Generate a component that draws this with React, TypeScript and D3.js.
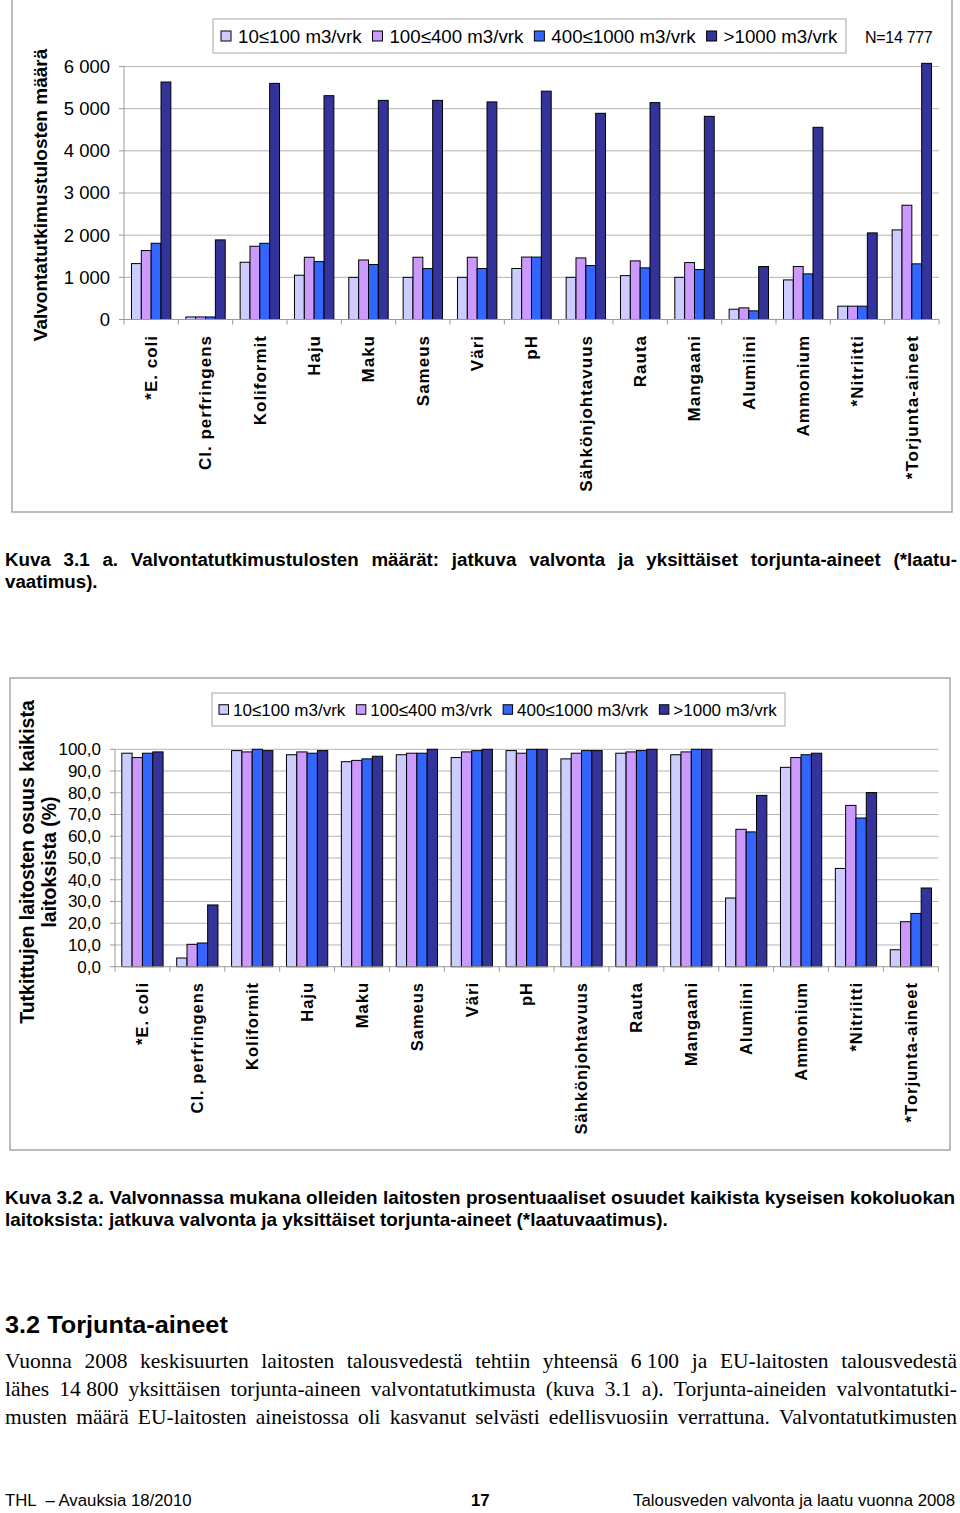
import React from 'react';
import * as d3 from 'd3';

// ---------- DATA ----------
const categories = [
  '*E. coli', 'Cl. perfringens', 'Koliformit', 'Haju', 'Maku', 'Sameus', 'Väri', 'pH',
  'Sähkönjohtavuus', 'Rauta', 'Mangaani', 'Alumiini', 'Ammonium', '*Nitriitti', '*Torjunta-aineet',
];
const seriesNames = ['10≤100 m3/vrk', '100≤400 m3/vrk', '400≤1000 m3/vrk', '>1000 m3/vrk'];
const seriesColors = ['#CCCCFF', '#CC99FF', '#3366FF', '#333399'];

// Kuva 3.1 a: number of results
const count10to100 = [1326, 60, 1358, 1050, 1000, 1000, 1000, 1210, 1000, 1040, 1000, 244, 939, 316, 2125];
const count100to400 = [1635, 60, 1737, 1476, 1412, 1476, 1476, 1480, 1460, 1390, 1350, 276, 1256, 316, 2710];
const count400to1000 = [1808, 60, 1808, 1374, 1303, 1208, 1208, 1480, 1280, 1225, 1185, 205, 1082, 316, 1320];
const countOver1000 = [5632, 1888, 5600, 5308, 5197, 5197, 5160, 5415, 4890, 5143, 4818, 1256, 4558, 2054, 6075];
const countTicks = [0, 1000, 2000, 3000, 4000, 5000, 6000];

// Kuva 3.2 a: share of plants (%)
const pct10to100 = [98.2, 4.0, 99.4, 97.5, 94.3, 97.5, 96.2, 99.4, 95.6, 98.2, 97.5, 31.6, 91.7, 45.2, 7.8];
const pct100to400 = [96.2, 10.3, 98.8, 98.8, 94.9, 98.2, 98.8, 98.2, 98.2, 98.8, 98.8, 63.2, 96.2, 74.2, 20.7];
const pct400to1000 = [98.2, 10.9, 100.0, 98.2, 95.6, 98.2, 99.4, 100.0, 99.4, 99.4, 100.0, 62.0, 97.5, 68.4, 24.5];
const pctOver1000 = [98.8, 28.4, 99.4, 99.4, 96.8, 100.0, 100.0, 100.0, 99.4, 100.0, 100.0, 78.8, 98.2, 80.1, 36.2];
const pctTicks = [0, 10, 20, 30, 40, 50, 60, 70, 80, 90, 100];

// ---------- TEXT MEASURE ----------
const SANS = "'Liberation Sans', Arial, sans-serif";
const SERIF = "'Liberation Serif', 'Times New Roman', serif";
let ctx: CanvasRenderingContext2D | null = null;
function measure(text: string, font: string): number {
  if (!ctx) {
    const c = document.createElement('canvas');
    ctx = c.getContext('2d');
  }
  if (!ctx) return text.length * 8;
  ctx.font = font;
  return ctx.measureText(text).width;
}

function JustLine(props: {
  text: string; x0: number; x1: number; y: number; size: number; bold?: boolean; serif?: boolean; justify?: boolean; sx?: number;
}) {
  const { text, x0, x1, y, size, bold, serif, justify } = props;
  const sx = props.sx ?? 1;
  const fam = serif ? "'Liberation Serif'" : "'Liberation Sans'";
  const font = `${bold ? 'bold ' : ''}${size}px ${fam}`;
  const words = text.split(' ');
  const widths = words.map((w) => measure(w, font) * sx);
  const total = d3.sum(widths);
  const spaceW = measure(' ', font) * sx;
  const gap = justify && words.length > 1 ? (x1 - x0 - total) / (words.length - 1) : spaceW;
  let cx = x0;
  const xs = widths.map((w) => {
    const p = cx;
    cx += w + gap;
    return p;
  });
  return (
    <g transform={`scale(${sx},1)`}>
      <text y={y} fontSize={size} fontWeight={bold ? 'bold' : 'normal'} fontFamily={serif ? SERIF : SANS} fill="#000">
        {words.map((w, i) => (
          <tspan key={i} x={xs[i] / sx}>{w}</tspan>
        ))}
      </text>
    </g>
  );
}

// ---------- CHART ----------
type ChartProps = {
  box: [number, number, number, number];
  left: number; right: number; top: number; bottom: number;
  max: number;
  ticks: number[];
  fmt: (v: number) => string;
  series: number[][];
  padding: number;
  tickSize: number; tickLabelX: number;
  legend: { x0: number; y0: number; x1: number; y1: number; size: number; sq: number; first: number; textGap: number; itemGap: number };
  labelSize: number; labelY: number;
  yTitle: { lines: string[]; xs: number[]; cy: number; size: number };
};

function BarChart(p: ChartProps) {
  const x = d3.scaleBand<string>().domain(categories).range([p.left, p.right]).paddingInner(p.padding).paddingOuter(p.padding / 2);
  const sub = d3.scaleBand<number>().domain(d3.range(p.series.length)).range([0, x.bandwidth()]).padding(0);
  const y = d3.scaleLinear().domain([0, p.max]).range([p.bottom, p.top]);
  const step = x.step();
  const [bx0, by0, bx1, by1] = p.box;
  const lg = p.legend;
  const legendFont = `${lg.size}px 'Liberation Sans'`;
  let lx = lg.first;
  const legendItems = seriesNames.map((name, i) => {
    const item = { x: lx, name, color: seriesColors[i] };
    lx += lg.textGap + measure(name, legendFont) + lg.itemGap;
    return item;
  });
  const lcy = (lg.y0 + lg.y1) / 2;
  return (
    <g>
      <rect x={bx0} y={by0} width={bx1 - bx0} height={by1 - by0} fill="#fff" stroke="#a6a6a6" strokeWidth={1.5} />
      {/* gridlines */}
      {p.ticks.filter((t) => t > 0).map((t) => (
        <line key={t} x1={p.left} x2={p.right} y1={y(t)} y2={y(t)} stroke="#b4b4b4" strokeWidth={1} />
      ))}
      {/* y axis */}
      <line x1={p.left} x2={p.left} y1={y(p.max)} y2={y(0)} stroke="#9a9a9a" strokeWidth={1} />
      {p.ticks.map((t) => (
        <g key={'t' + t}>
          <line x1={p.left - 5} x2={p.left} y1={y(t)} y2={y(t)} stroke="#9a9a9a" />
          <text x={p.tickLabelX} y={y(t)} dy="0.35em" textAnchor="end" fontSize={p.tickSize} fontFamily={SANS} fill="#000">
            {p.fmt(t)}
          </text>
        </g>
      ))}
      {/* bars */}
      {categories.map((c, ci) => (
        <g key={c}>
          {p.series.map((s, si) => (
            <rect
              key={si}
              x={(x(c) as number) + (sub(si) as number)}
              y={y(s[ci])}
              width={sub.bandwidth()}
              height={y(0) - y(s[ci])}
              fill={seriesColors[si]}
              stroke="#000"
              strokeWidth={1}
            />
          ))}
        </g>
      ))}
      {/* x axis */}
      <line x1={p.left} x2={p.right} y1={y(0)} y2={y(0)} stroke="#9a9a9a" strokeWidth={1} />
      {d3.range(categories.length + 1).map((i) => (
        <line key={'xt' + i} x1={p.left + i * step} x2={p.left + i * step} y1={y(0)} y2={y(0) + 5} stroke="#9a9a9a" />
      ))}
      {categories.map((c) => (
        <text
          key={'l' + c}
          transform={`translate(${(x(c) as number) + x.bandwidth() / 2},${p.labelY}) rotate(-90)`}
          textAnchor="end"
          dy="0.35em"
          fontSize={p.labelSize}
          fontWeight="bold"
          letterSpacing={1}
          fontFamily={SANS}
          fill="#000"
        >
          {c}
        </text>
      ))}
      {/* y title */}
      {p.yTitle.lines.map((line, i) => (
        <text
          key={'yt' + i}
          transform={`translate(${p.yTitle.xs[i]},${p.yTitle.cy}) rotate(-90)`}
          textAnchor="middle"
          dy="0.35em"
          fontSize={p.yTitle.size}
          fontWeight="bold"
          fontFamily={SANS}
          fill="#000"
        >
          {line}
        </text>
      ))}
      {/* legend */}
      <rect x={lg.x0} y={lg.y0} width={lg.x1 - lg.x0} height={lg.y1 - lg.y0} fill="#fff" stroke="#a6a6a6" strokeWidth={1} />
      {legendItems.map((it) => (
        <g key={it.name}>
          <rect x={it.x} y={lcy - lg.sq / 2} width={lg.sq} height={lg.sq} fill={it.color} stroke="#000" strokeWidth={1} />
          <text x={it.x + lg.textGap} y={lcy} dy="0.36em" fontSize={lg.size} fontFamily={SANS} fill="#000">
            {it.name}
          </text>
        </g>
      ))}
    </g>
  );
}

const fmtCount = (v: number) => d3.format(',')(v).replace(/,/g, ' ');
const fmtPct = (v: number) => v.toFixed(1).replace('.', ',');

export default function App() {
  return (
    <svg width={960} height={1513} style={{ position: 'absolute', left: 0, top: 0, background: '#fff' }}>
      <rect x={0} y={0} width={960} height={1513} fill="#fff" />
      <BarChart
        box={[12, -1, 952, 512]}
        left={124}
        right={939}
        top={66.5}
        bottom={319.5}
        max={6000}
        ticks={countTicks}
        fmt={fmtCount}
        series={[count10to100, count100to400, count400to1000, countOver1000]}
        padding={0.275}
        tickSize={18.5}
        tickLabelX={110}
        legend={{ x0: 213, y0: 19, x1: 846, y1: 53, size: 18.7, sq: 10, first: 221, textGap: 17, itemGap: 11 }}
        labelSize={17}
        labelY={335}
        yTitle={{ lines: ['Valvontatutkimustulosten määrä'], xs: [40], cy: 195, size: 19 }}
      />
      <text x={865} y={43} fontSize={16} fontFamily={SANS} fill="#000" letterSpacing={-0.3}>N=14 777</text>

      <JustLine text="Kuva 3.1 a. Valvontatutkimustulosten määrät: jatkuva valvonta ja yksittäiset torjunta-aineet (*laatu-" x0={5} x1={957} y={566} size={18} bold justify sx={1.04} />
      <JustLine text="vaatimus)." x0={5} x1={957} y={588} size={18} bold sx={1.04} />

      <BarChart
        box={[10, 678, 950, 1150]}
        left={115}
        right={938.3}
        top={749.3}
        bottom={966.7}
        max={100}
        ticks={pctTicks}
        fmt={fmtPct}
        series={[pct10to100, pct100to400, pct400to1000, pctOver1000]}
        padding={0.248}
        tickSize={17}
        tickLabelX={101}
        legend={{ x0: 212, y0: 693, x1: 785, y1: 726, size: 17, sq: 9.5, first: 219, textGap: 14, itemGap: 11 }}
        labelSize={16.5}
        labelY={982}
        yTitle={{ lines: ['Tutkittujen laitosten osuus kaikista', 'laitoksista (%)'], xs: [27, 49], cy: 862, size: 19.5 }}
      />

      <JustLine text="Kuva 3.2 a. Valvonnassa mukana olleiden laitosten prosentuaaliset osuudet kaikista kyseisen kokoluokan" x0={5} x1={955} y={1204} size={17.5} bold justify sx={1.08} />
      <JustLine text="laitoksista: jatkuva valvonta ja yksittäiset torjunta-aineet (*laatuvaatimus)." x0={5} x1={955} y={1226} size={17.5} bold sx={1.08} />

      <g transform="scale(1.1,1)">
        <text x={5 / 1.1} y={1333} fontSize={23} fontWeight="bold" fontFamily={SANS} fill="#000">3.2 Torjunta-aineet</text>
      </g>

      <JustLine text={'Vuonna 2008 keskisuurten laitosten talousvedestä tehtiin yhteensä 6\u00a0100 ja EU-laitosten talousvedestä'} x0={5} x1={957} y={1368} size={21.5} serif justify />
      <JustLine text={'lähes 14\u00a0800 yksittäisen torjunta-aineen valvontatutkimusta (kuva 3.1 a). Torjunta-aineiden valvontatutki-'} x0={5} x1={957} y={1396} size={21.5} serif justify />
      <JustLine text="musten määrä EU-laitosten aineistossa oli kasvanut selvästi edellisvuosiin verrattuna. Valvontatutkimusten" x0={5} x1={957} y={1424} size={21.5} serif justify />

      <text x={5} y={1506} fontSize={16.8} fontFamily={SANS} fill="#000" xmlSpace="preserve">THL  – Avauksia 18/2010</text>
      <text x={471} y={1506} fontSize={16.8} fontWeight="bold" fontFamily={SANS} fill="#000">17</text>
      <text x={955} y={1506} fontSize={16.8} fontFamily={SANS} fill="#000" textAnchor="end">Talousveden valvonta ja laatu vuonna 2008</text>
    </svg>
  );
}
